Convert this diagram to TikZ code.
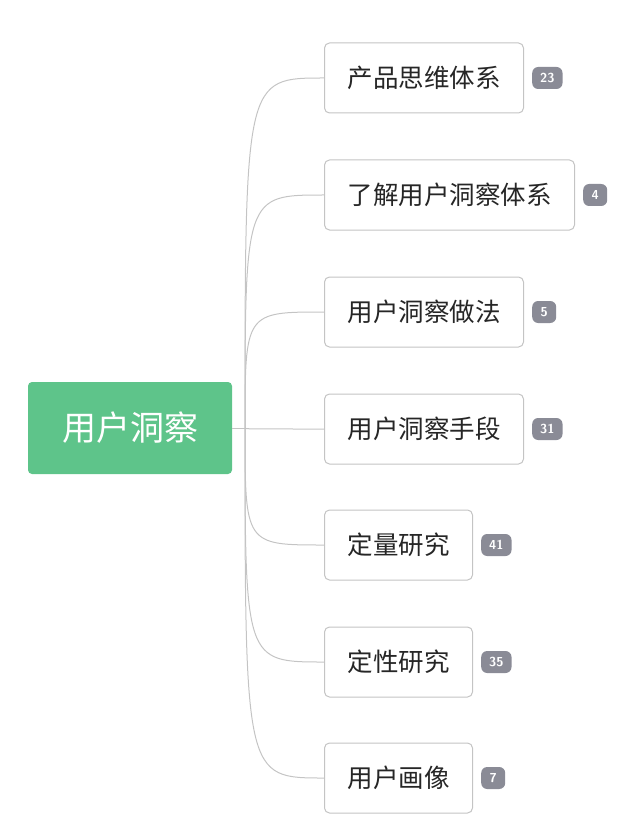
\documentclass[tikz,border=0pt]{standalone}
\usepackage{fontspec}
\newfontfamily\cjk{Noto Sans CJK SC}
\usetikzlibrary{positioning}
\definecolor{rootgreen}{HTML}{5EC48A}
\definecolor{badgegray}{HTML}{8A8B96}
\definecolor{linegray}{HTML}{C4C4C4}
\tikzset{
  root/.style={draw=none,fill=rootgreen,rounded corners=4pt,minimum width=204pt,minimum height=92pt,text=white,font=\cjk\fontsize{34}{36}\selectfont},
  topic/.style={draw=linegray,line width=1pt,fill=white,rounded corners=5pt,minimum height=70pt,inner xsep=23pt,anchor=west,font=\cjk\fontsize{25.5}{27}\selectfont,text=black!85},
  badge/.style={fill=badgegray,rounded corners=6pt,minimum height=22pt,minimum width=24pt,inner xsep=8pt,text=white,font=\sffamily\bfseries\fontsize{13}{14}\selectfont},
  link/.style={draw=linegray,line width=1pt}
}
\begin{document}
\begin{tikzpicture}[x=1pt,y=-1pt]
\useasboundingbox (0,0) rectangle (637,834);
\node[root] (r) at (130,428) {用户洞察};
\coordinate (hub) at (245,428);
\node[topic] (t1) at (324,78) {产品思维体系};
\node[topic] (t2) at (324,195) {了解用户洞察体系};
\node[topic] (t3) at (324,312) {用户洞察做法};
\node[topic] (t4) at (324,429) {用户洞察手段};
\node[topic] (t5) at (324,545) {定量研究};
\node[topic] (t6) at (324,662) {定性研究};
\node[topic] (t7) at (324,778) {用户画像};
\node[badge,right=8pt of t1] (b1) {23};
\node[badge,right=8pt of t2] (b2) {4};
\node[badge,right=8pt of t3] (b3) {5};
\node[badge,right=8pt of t4] (b4) {31};
\node[badge,right=8pt of t5] (b5) {41};
\node[badge,right=8pt of t6] (b6) {35};
\node[badge,right=8pt of t7] (b7) {7};
\draw[link] (r.east) -- (hub);
\foreach \t in {t1,t2,t3,t4,t5,t6,t7}
  \draw[link] (hub) .. controls (hub |- \t.west) .. (\t.west);
\end{tikzpicture}
\end{document}
